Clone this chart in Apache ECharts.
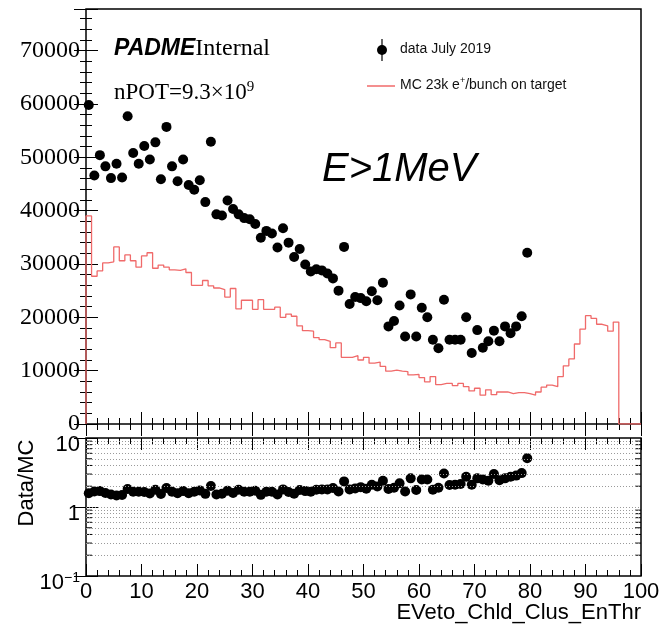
<!DOCTYPE html>
<html>
<head>
<meta charset="utf-8">
<script src="https://cdn.jsdelivr.net/npm/echarts@6/dist/echarts.min.js"></script>
<style>
html, body { margin: 0; padding: 0; background: #fff; }
#chart { width: 661px; height: 627px; }
</style>
</head>
<body>
<div id="chart"></div>
<script>
// histogram binning: 100 bins of width 1 from 0 to 100
var binLow = 0;
var binWidth = 1;

// data July 2019, bins 0..79
var dataCounts = [
    59800, 46600, 50400, 48300, 46100, 48800, 46200, 57700, 50800, 48800,
    52100, 49600, 52800, 45900, 55700, 48300, 45500, 49600, 44800, 43900,
    45700, 41600, 52900, 39300, 39100, 41900, 40300, 39300, 38600, 38400,
    37500, 34900, 36200, 35700, 33100, 36700, 34000, 31300, 32800, 29900,
    28600, 29000, 28800, 28200, 27300, 25000, 33200, 22500, 23800, 23600,
    23000, 24900, 23200, 26500, 18300, 19300, 22200, 16400, 24300, 16400,
    21800, 20000, 15800, 14200, 23300, 15800, 15800, 15800, 20000, 13300,
    17600, 14300, 15500, 17500, 15500, 18300, 17000, 18300, 20200, 32100
];

// MC 23k e+/bunch on target, bins 0..99
var mcCounts = [
    39000, 27700, 28700, 30200, 30400, 33200, 30600, 31700, 30600, 29400,
    31500, 32100, 29200, 29800, 29400, 28900, 28800, 29100, 28400, 26000,
    26000, 26900, 25900, 25500, 25200, 23800, 25400, 21600, 23200, 23200,
    21500, 23300, 21500, 21500, 21900, 20000, 20600, 20200, 18400, 17500,
    17400, 16200, 15800, 15500, 14300, 15200, 12500, 12500, 12800, 12000,
    12500, 11400, 11600, 10800, 9900, 10100, 9900, 9800, 9200, 9300,
    8700, 7900, 8900, 7400, 7600, 7600, 7200, 7600, 7000, 6200,
    6700, 5400, 6400, 5500, 6000, 6000, 5700, 5900, 5900, 5700,
    5400, 6000, 6900, 7300, 7000, 8900, 10900, 12200, 15000, 17800,
    20300, 19800, 18700, 18400, 17400, 19100, 0, 0, 0, 0
];

// Data/MC, bins 0..79
var ratioValues = [
    1.58, 1.68, 1.70, 1.60, 1.52, 1.47, 1.49, 1.82, 1.66, 1.66,
    1.65, 1.57, 1.78, 1.54, 1.88, 1.67, 1.58, 1.70, 1.58, 1.66,
    1.74, 1.55, 2.02, 1.52, 1.56, 1.72, 1.60, 1.78, 1.66, 1.66,
    1.72, 1.50, 1.66, 1.66, 1.52, 1.80, 1.65, 1.56, 1.76, 1.70,
    1.66, 1.78, 1.80, 1.80, 1.88, 1.68, 2.35, 1.80, 1.86, 1.94,
    1.84, 2.10, 1.98, 2.40, 1.82, 1.90, 2.20, 1.68, 2.60, 1.76,
    2.50, 2.50, 1.78, 1.90, 3.05, 2.08, 2.10, 2.15, 2.75, 2.10,
    2.60, 2.50, 2.40, 3.00, 2.45, 2.60, 2.75, 2.85, 3.10, 5.10
];

// log-axis minor positions of the ratio pad
var ratioGridValues = [0.2, 0.3, 0.4, 0.5, 0.6, 0.7, 0.8, 0.9, 1, 2, 3, 4, 5, 6, 7, 8, 9];

var xMin = 0, xMax = 100, xStep = 10;
var topYMax = 77800, topYStep = 10000;
var ratioMin = 0.1, ratioMax = 10;

var black = '#000';
var mcColor = '#f06a6a';
var sans = 'Liberation Sans, Arial, sans-serif';
var serif = 'Liberation Serif, Times New Roman, serif';

var tickStyle = { show: true, inside: true, length: 12, lineStyle: { color: black, width: 1 } };
var minorStyle = { show: true, splitNumber: 5, length: 6, lineStyle: { color: black, width: 1 } };

function xAxisFor(grid, pos, labels) {
    return {
        gridIndex: grid, type: 'value', position: pos,
        min: xMin, max: xMax, interval: xStep,
        axisLine: { show: false },
        axisTick: tickStyle, minorTick: minorStyle,
        splitLine: { show: false },
        axisLabel: labels ? { show: true, fontFamily: sans, fontSize: 22, color: black, margin: 5,
            showMinLabel: true, showMaxLabel: true, hideOverlap: false } : { show: false }
    };
}

var chart = echarts.init(document.getElementById('chart'), null, { renderer: 'canvas' });

var option = {
    animation: false,
    backgroundColor: '#fff',
    grid: [
        { left: 86, top: 9, width: 555, height: 415, show: true, borderColor: black, borderWidth: 1.5,
          backgroundColor: 'transparent', containLabel: false, outerBoundsMode: 'none' },
        { left: 86, top: 438, width: 555, height: 138, show: true, borderColor: black, borderWidth: 1.5,
          backgroundColor: 'transparent', containLabel: false, outerBoundsMode: 'none' }
    ],
    xAxis: [
        xAxisFor(0, 'bottom', false),
        xAxisFor(0, 'top', false),
        xAxisFor(1, 'bottom', true),
        xAxisFor(1, 'top', false)
    ],
    yAxis: [
        {
            gridIndex: 0, type: 'value', position: 'left',
            min: 0, max: topYMax, interval: topYStep,
            axisLine: { show: false }, axisTick: tickStyle, minorTick: minorStyle,
            splitLine: { show: false },
            axisLabel: { fontFamily: serif, fontSize: 24, color: black, margin: 6,
                showMaxLabel: false, showMinLabel: true,
                formatter: function (v) { return String(v); } }
        },
        {
            gridIndex: 0, type: 'value', position: 'right',
            min: 0, max: topYMax, interval: topYStep,
            axisLine: { show: false }, axisTick: tickStyle, minorTick: minorStyle,
            splitLine: { show: false }, axisLabel: { show: false }
        },
        {
            gridIndex: 1, type: 'log', logBase: 10, position: 'left',
            min: ratioMin, max: ratioMax,
            axisLine: { show: false }, axisTick: tickStyle,
            splitLine: { show: false },
            axisLabel: {
                fontFamily: sans, fontSize: 22, color: black, margin: 6,
                showMinLabel: true, showMaxLabel: true,
                padding: [14, 0, 0, 0],
                formatter: function (v) {
                    if (v < 0.5) return '{b|10}{s|\u22121}';
                    return '{b|' + Math.round(v) + '}';
                },
                rich: {
                    b: { fontFamily: sans, fontSize: 22, color: black, lineHeight: 24 },
                    s: { fontFamily: sans, fontSize: 14, color: black, verticalAlign: 'top', lineHeight: 14 }
                }
            }
        },
        {
            gridIndex: 1, type: 'log', logBase: 10, position: 'right',
            min: ratioMin, max: ratioMax,
            axisLine: { show: false }, axisTick: tickStyle,
            splitLine: { show: false }, axisLabel: { show: false }
        }
    ],
    series: [
        {
            name: 'MC 23k e+/bunch on target',
            type: 'line', step: 'end', xAxisIndex: 0, yAxisIndex: 0,
            showSymbol: false, symbol: 'none',
            lineStyle: { color: mcColor, width: 1.3 },
            data: [[binLow, 0]].concat(mcCounts.map(function (v, i) {
                return [binLow + i * binWidth, v];
            })).concat([[binLow + mcCounts.length * binWidth, mcCounts[mcCounts.length - 1]]]),
            z: 3
        },
        {
            name: 'data July 2019',
            type: 'scatter', xAxisIndex: 0, yAxisIndex: 0,
            symbol: 'circle', symbolSize: 10,
            itemStyle: { color: black, opacity: 1 },
            data: dataCounts.map(function (v, i) {
                return [binLow + (i + 0.5) * binWidth, v];
            }),
            z: 4
        },
        {
            name: 'ratio grid',
            type: 'line', xAxisIndex: 2, yAxisIndex: 2,
            data: [], silent: true,
            markLine: {
                silent: true, symbol: 'none', label: { show: false },
                lineStyle: { color: '#9a9a9a', type: [1, 2], width: 1 },
                data: ratioGridValues.map(function (v) { return { yAxis: v }; })
            }
        },
        {
            name: 'ratio ticks',
            type: 'custom', xAxisIndex: 2, yAxisIndex: 2, silent: true,
            data: ratioGridValues.filter(function (v) { return v !== 1; }).map(function (v) { return [xMin, v]; }),
            renderItem: function (params, api) {
                var v = api.value(1);
                var l = api.coord([xMin, v]);
                var r = api.coord([xMax, v]);
                return {
                    type: 'group',
                    children: [
                        { type: 'line', shape: { x1: l[0], y1: l[1], x2: l[0] + 6, y2: l[1] }, style: { stroke: black, lineWidth: 1 } },
                        { type: 'line', shape: { x1: r[0] - 6, y1: r[1], x2: r[0], y2: r[1] }, style: { stroke: black, lineWidth: 1 } }
                    ]
                };
            }
        },
        {
            name: 'Data/MC',
            type: 'scatter', xAxisIndex: 2, yAxisIndex: 2,
            symbol: 'circle', symbolSize: 10,
            itemStyle: { color: black, opacity: 1 },
            data: ratioValues.map(function (v, i) {
                return [binLow + (i + 0.5) * binWidth, v];
            }),
            z: 4
        }
    ],
    graphic: [
        // PADME Internal
        { type: 'text', left: 114, top: 37, style: {
            text: '{a|PADME}{b|Internal}',
            rich: {
                a: { fontFamily: sans, fontSize: 23, fontWeight: 'bold', fontStyle: 'italic', fill: black },
                b: { fontFamily: serif, fontSize: 24, fill: black }
            } } },
        // nPOT
        { type: 'text', left: 114, top: 80, style: {
            text: '{a|nPOT=9.3\u00d710}{s|9}',
            rich: {
                a: { fontFamily: serif, fontSize: 23, fill: black, lineHeight: 26 },
                s: { fontFamily: serif, fontSize: 15, fill: black, verticalAlign: 'top', lineHeight: 15 }
            } } },
        // E>1MeV
        { type: 'text', left: 322, top: 150, style: {
            text: 'E>1MeV', fontFamily: sans, fontSize: 40, fontStyle: 'italic', fill: black } },
        // legend: data
        { type: 'line', shape: { x1: 382, y1: 39, x2: 382, y2: 61 }, style: { stroke: black, lineWidth: 1.2 } },
        { type: 'circle', shape: { cx: 382, cy: 50, r: 5 }, style: { fill: black } },
        { type: 'text', left: 400, top: 42, style: {
            text: 'data July 2019', fontFamily: sans, fontSize: 14, fill: '#111' } },
        // legend: MC
        { type: 'line', shape: { x1: 367, y1: 86, x2: 395, y2: 86 }, style: { stroke: mcColor, lineWidth: 1.5 } },
        { type: 'text', left: 400, top: 76, style: {
            text: '{t|MC 23k e}{s|+}{t|/bunch on target}',
            rich: {
                t: { fontFamily: sans, fontSize: 14, fill: '#111', lineHeight: 18 },
                s: { fontFamily: sans, fontSize: 9, fill: '#111', verticalAlign: 'top', lineHeight: 9 }
            } } },
        // y title of ratio pad
        { type: 'text', x: 27, y: 483, rotation: Math.PI / 2, style: {
            text: 'Data/MC', fontFamily: sans, fontSize: 22, fill: black, align: 'center', verticalAlign: 'middle' } },
        // x title
        { type: 'text', x: 641, y: 613, style: {
            text: 'EVeto_Chld_Clus_EnThr', fontFamily: sans, fontSize: 22, fill: black, align: 'right', verticalAlign: 'middle' } }
    ]
};

chart.setOption(option);
</script>
</body>
</html>
